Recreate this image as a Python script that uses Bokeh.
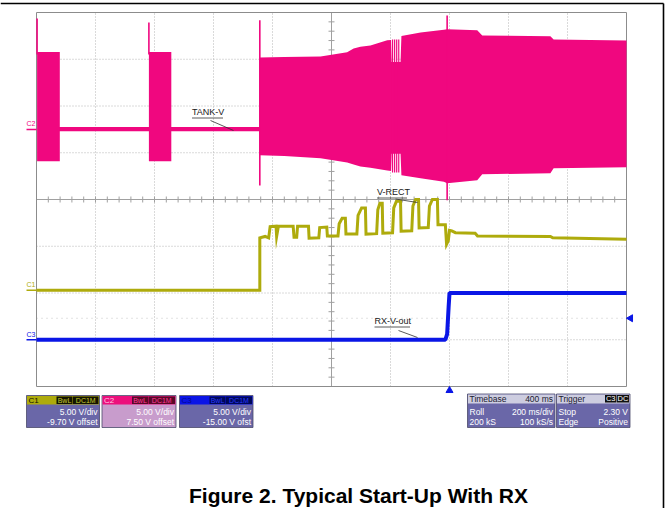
import math
from bokeh.plotting import figure
from bokeh.models import Range1d
from bokeh.embed import file_html
from bokeh.resources import INLINE
from bokeh.core.properties import value

# ---------------- data ----------------
ms_per_div = 200            # Roll 200 ms/div
t_first = -1400             # ms at left screen edge (trigger at 0 ms)
x_divs = 10
y_divs = 8

ch1_vdiv, ch1_offset = 5.0, -9.70     # V-RECT
ch2_vdiv, ch2_offset = 5.0, 7.50      # TANK-V
ch3_vdiv, ch3_offset = 5.0, -15.00    # RX-V-out
trigger_level = 2.30                  # V on C3

# C2 TANK-V : envelope of the AC waveform (ms, V top, V bottom)
tank_t   = [-1398, -1398, -1321, -1321, -1019, -1019, -943, -943, -643, -643, -560, -437, -347, -325, -302, -268, -211, -198, -196, -166, -163, -98, -19, -8, 94, 111, 342, 353, 600]
tank_top = [0.25, 8.27, 8.27, 0.25, 0.25, 8.27, 8.27, 0.25, 0.25, 7.70, 7.75, 7.80, 8.24, 8.66, 8.85, 8.98, 9.52, 9.55, 7.20, 7.20, 10.00, 10.37, 10.66, 10.70, 10.59, 10.05, 9.95, 9.60, 9.50]
tank_bot = [-0.20, -3.42, -3.42, -0.20, -0.20, -3.42, -3.42, -0.20, -0.20, -2.78, -2.85, -3.10, -3.53, -3.75, -3.96, -4.10, -4.39, -4.45, -2.60, -2.60, -4.90, -5.24, -5.60, -5.75, -5.45, -4.80, -4.70, -4.17, -4.06]
tank_spike_t  = [-1398, -1019, -643, -8]
tank_spike_hi = [11.87, 11.44, 11.66, 12.19]
tank_spike_lo = [8.0, 8.0, -5.99, -7.59]
tank_comb_t  = [-193, -186, -179, -172]
tank_comb_hi = [9.6, 9.6, 9.6, 9.6]
tank_comb_lo = [-4.6, -4.6, -4.6, -4.6]

# C1 V-RECT (ms, V)
vrect_t = [-1400, -643, -643, -625, -613, -608, -588, -586, -580, -530, -527, -518, -515, -478, -476, -443, -440, -416, -414, -378, -374, -364, -353, -351, -314, -310, -298, -285, -283, -247, -243, -236, -228, -226, -193, -189, -180, -166, -164, -128, -124, -115, -105, -103, -72, -68, -58, -41, -39, -14, -10, -4, 0, 8, 20, 87, 95, 342, 350, 600]
vrect_v = [0.0, 0.0, 5.6, 5.75, 5.6, 6.8, 6.85, 5.75, 6.85, 6.85, 5.65, 5.65, 6.85, 6.85, 5.55, 5.6, 6.7, 6.75, 5.8, 5.8, 7.1, 7.7, 7.7, 6.0, 6.0, 8.0, 8.8, 8.8, 6.0, 6.05, 8.6, 9.3, 9.3, 6.1, 6.15, 8.8, 9.5, 9.5, 6.3, 6.35, 9.0, 9.7, 9.7, 6.65, 6.7, 9.0, 9.7, 9.7, 7.0, 7.0, 4.9, 5.3, 6.4, 6.35, 6.15, 6.1, 5.8, 5.75, 5.6, 5.45]

# C3 RX-V-out (ms, V)
rxv_t = [-1400, -14, -8, -3, 0, 600]
rxv_v = [0.0, 0.0, 0.6, 3.5, 5.0, 5.0]

# info panels
ch_names   = ["C1", "C2", "C3"]
ch_line1   = ["5.00 V/div", "5.00 V/div", "5.00 V/div"]
ch_line2   = ["-9.70 V offset", "7.50 V offset", "-15.00 V ofst"]
tb_labels  = ["Timebase", "Roll", "200 kS"]
tb_values  = ["400 ms", "200 ms/div", "100 kS/s"]
trg_labels = ["Trigger", "Stop", "Edge"]
trg_values = ["", "2.30 V", "Positive"]
caption = "Figure 2. Typical Start-Up With RX"

# ---------------- layout / style ----------------
W, H = 668, 508
GX0, GX1, GY0, GY1 = 36, 626, 12, 386           # scope grid in page pixels
px_per_ms = (GX1 - GX0) / (x_divs * ms_per_div)
px_per_div = (GY1 - GY0) / y_divs
t_last = t_first + x_divs * ms_per_div
xr = Range1d(t_first - GX0 / px_per_ms, t_last + (W - GX1) / px_per_ms)
ylo = -y_divs / 2 - (H - GY1) / px_per_div
yhi = y_divs / 2 + GY0 / px_per_div
yr = Range1d(ylo, yhi)

def ch_range(vdiv, off):
    c = -off
    return Range1d(c + vdiv * ylo, c + vdiv * yhi)

PINK = "#f0077f"
OLIVE = "#aeab0c"
BLUE = "#0a16e6"
FONT = value("Liberation Sans")

p = figure(width=W, height=H, x_range=xr, y_range=yr, min_border=0,
           x_axis_location=None, y_axis_location=None,
           toolbar_location=None, output_backend="svg")
p.margin = (0, 0, 0, 0)
p.grid.visible = False
p.outline_line_color = None
p.background_fill_color = "white"
p.border_fill_color = "white"
p.extra_x_ranges = {"px": Range1d(0, W)}
p.extra_y_ranges = {"py": Range1d(H, 0),
                    "c1": ch_range(ch1_vdiv, ch1_offset),
                    "c2": ch_range(ch2_vdiv, ch2_offset),
                    "c3": ch_range(ch3_vdiv, ch3_offset)}

# ---- graticule ----
half_y = y_divs / 2
vx_in = [t_first + k * ms_per_div for k in range(1, x_divs) if k != x_divs // 2]
p.segment(x0=vx_in, x1=vx_in, y0=[-half_y] * len(vx_in), y1=[half_y] * len(vx_in),
          line_color="#b4b4b4", line_width=1, line_dash="1 2")
hy_in = [k for k in range(-int(half_y) + 1, int(half_y)) if k != 0]
p.segment(x0=[t_first] * len(hy_in), x1=[t_last] * len(hy_in), y0=hy_in, y1=hy_in,
          line_color="#b4b4b4", line_width=1, line_dash="1 2")
tmid = t_first + ms_per_div * x_divs / 2
p.segment(x0=[tmid, t_first], x1=[tmid, t_last], y0=[-half_y, 0], y1=[half_y, 0],
          line_color="#a0a0a0", line_width=1)
# minor ticks on centre cross
tk_x = [t_first + k * ms_per_div / 5 for k in range(1, x_divs * 5)]
dy = 3 / px_per_div
p.segment(x0=tk_x, x1=tk_x, y0=[-dy] * len(tk_x), y1=[dy] * len(tk_x), line_color="#a0a0a0", line_width=1)
tk_y = [-half_y + k * 0.2 for k in range(1, y_divs * 5)]
dx = 3 / px_per_ms
p.segment(x0=[tmid - dx] * len(tk_y), x1=[tmid + dx] * len(tk_y), y0=tk_y, y1=tk_y, line_color="#a0a0a0", line_width=1)
# trigger level dotted line
p.segment(x0=[t_first], x1=[t_last], y0=[trigger_level], y1=[trigger_level], y_range_name="c3",
          line_color="#c4c4c4", line_width=1, line_dash="1 4")
# border
p.quad(left=[t_first], right=[t_last], bottom=[-half_y], top=[half_y], fill_color=None,
       line_color="#8c8c8c", line_width=1)

# ---- traces ----
p.varea(x=tank_t, y1=tank_bot, y2=tank_top, y_range_name="c2", fill_color=PINK)
p.segment(x0=tank_spike_t, x1=tank_spike_t, y0=tank_spike_lo, y1=tank_spike_hi, y_range_name="c2",
          line_color=PINK, line_width=1.6)
p.segment(x0=tank_comb_t, x1=tank_comb_t, y0=tank_comb_lo, y1=tank_comb_hi, y_range_name="c2",
          line_color=PINK, line_width=1.2)
p.line(vrect_t, vrect_v, y_range_name="c1", line_color=OLIVE, line_width=3, line_join="miter")
p.line(rxv_t, rxv_v, y_range_name="c3", line_color=BLUE, line_width=4)

# ---- channel ground markers ----
for name, rn, col in [("C1", "c1", OLIVE), ("C2", "c2", PINK), ("C3", "c3", BLUE)]:
    p.segment(x0=[26], x1=[GX0], y0=[0], y1=[0], x_range_name="px", y_range_name=rn, line_color=col, line_width=1.5)
    p.text(x=[26], y=[0], text=[name], x_range_name="px", y_range_name=rn, text_color=col,
           text_font=FONT, text_font_size="7px", text_baseline="bottom", text_align="left", y_offset=-2)

# trigger markers
p.scatter(x=[0], y=[390], y_range_name="py", marker="triangle", size=7, color=BLUE)
p.scatter(x=[630], y=[trigger_level], x_range_name="px", y_range_name="c3", marker="triangle",
          angle=math.pi / 2, size=7, color=BLUE)

# ---- trace labels ----
labels = [("TANK-V", 191.5, 116.5, 222.5, (210, 120, 233, 130)),
          ("V-RECT", 376.5, 196.5, 406.5, (395, 198.5, 417, 202)),
          ("RX-V-out", 374, 325.5, 409.5, (398, 330, 417, 337))]
for txt, x0, yb, x1, ld in labels:
    p.text(x=[x0], y=[yb], text=[txt], x_range_name="px", y_range_name="py", text_color="#202020",
           text_font=FONT, text_font_size="9px", text_baseline="bottom", text_align="left")
    p.segment(x0=[x0], x1=[x1], y0=[yb + 1], y1=[yb + 1], x_range_name="px", y_range_name="py",
              line_color="#303030", line_width=0.8)
    p.segment(x0=[ld[0]], x1=[ld[2]], y0=[ld[1]], y1=[ld[3]], x_range_name="px", y_range_name="py",
              line_color="#303030", line_width=0.8)

# ---- info panels ----
BOX_TOP, HDR_BOT, BOX_BOT = 395, 404, 427
box_x = [(26, 99), (101.5, 175.5), (179, 252.5)]
hdr_col = [OLIVE, "#ec0f7c", "#0a14e6"]
body_col = ["#6a67a8", "#c89ccc", "#6a67a8"]
name_col = ["#101000", "#ffc8e0", "#000890"]
badge_col = ["#141400", "#5a0828", "#00085a"]
badge_txt = ["#c8c830", "#ff3c96", "#2838ff"]
for i in range(3):
    l, r = box_x[i]
    p.quad(left=[l], right=[r], top=[BOX_TOP], bottom=[BOX_BOT], x_range_name="px", y_range_name="py",
           fill_color=body_col[i], line_color="#4a4a6a", line_width=0.8)
    p.quad(left=[l + 0.5], right=[r - 0.5], top=[BOX_TOP + 0.5], bottom=[HDR_BOT], x_range_name="px",
           y_range_name="py", fill_color=hdr_col[i], line_color=None)
    p.text(x=[l + 2], y=[399.8], text=[ch_names[i]], x_range_name="px", y_range_name="py",
           text_color=name_col[i], text_font=FONT, text_font_size="8px", text_baseline="middle")
    p.quad(left=[l + 30, l + 46.5], right=[l + 46, r - 1], top=[396] * 2, bottom=[403.5] * 2,
           x_range_name="px", y_range_name="py", fill_color=badge_col[i], line_color=None)
    p.text(x=[l + 38, (l + 46.5 + r - 1) / 2], y=[400] * 2, text=["BwL", "DC1M"], x_range_name="px",
           y_range_name="py", text_color=badge_txt[i], text_font=FONT, text_font_size="7px",
           text_baseline="middle", text_align="center")
    p.text(x=[r - 2, r - 2], y=[411.5, 421.5], text=[ch_line1[i], ch_line2[i]], x_range_name="px",
           y_range_name="py", text_color="white", text_font=FONT, text_font_size="8.5px",
           text_baseline="middle", text_align="right")

for (l, r), labs, vals in [((467, 554.5), tb_labels, tb_values), ((556, 629.5), trg_labels, trg_values)]:
    p.quad(left=[l], right=[r], top=[BOX_TOP - 1.5], bottom=[BOX_BOT], x_range_name="px", y_range_name="py",
           fill_color="#6a67a8", line_color="#4a4a6a", line_width=0.8)
    p.quad(left=[l + 0.5], right=[r - 0.5], top=[BOX_TOP - 1], bottom=[HDR_BOT - 1], x_range_name="px",
           y_range_name="py", fill_color="#cdcde0", line_color=None)
    p.text(x=[l + 2] * 3, y=[398.3, 411, 421], text=labs, x_range_name="px", y_range_name="py",
           text_color=["#202030", "white", "white"], text_font=FONT, text_font_size="8.5px",
           text_baseline="middle", text_align="left")
    p.text(x=[r - 2] * 3, y=[398.3, 411, 421], text=vals, x_range_name="px", y_range_name="py",
           text_color=["#202030", "white", "white"], text_font=FONT, text_font_size="8.5px",
           text_baseline="middle", text_align="right")
# trigger source badges
p.quad(left=[604.5, 616.5], right=[616, 628.5], top=[394.5] * 2, bottom=[402] * 2, x_range_name="px",
       y_range_name="py", fill_color="#101010", line_color=None)
p.text(x=[610.2, 622.5], y=[398.3] * 2, text=["C3", "DC"], x_range_name="px", y_range_name="py",
       text_color="white", text_font=FONT, text_font_size="7.5px", text_baseline="middle", text_align="center")

# ---- caption and page frame ----
p.text(x=[358], y=[495], text=[caption], x_range_name="px", y_range_name="py", text_color="black",
       text_font=FONT, text_font_size="21px", text_font_style="bold", text_align="center",
       text_baseline="alphabetic")
p.segment(x0=[0, 663], x1=[663, 663], y0=[3, 3], y1=[3, H], x_range_name="px", y_range_name="py",
          line_color="black", line_width=1.6)

open("out.html", "w").write(file_html(p, INLINE))
